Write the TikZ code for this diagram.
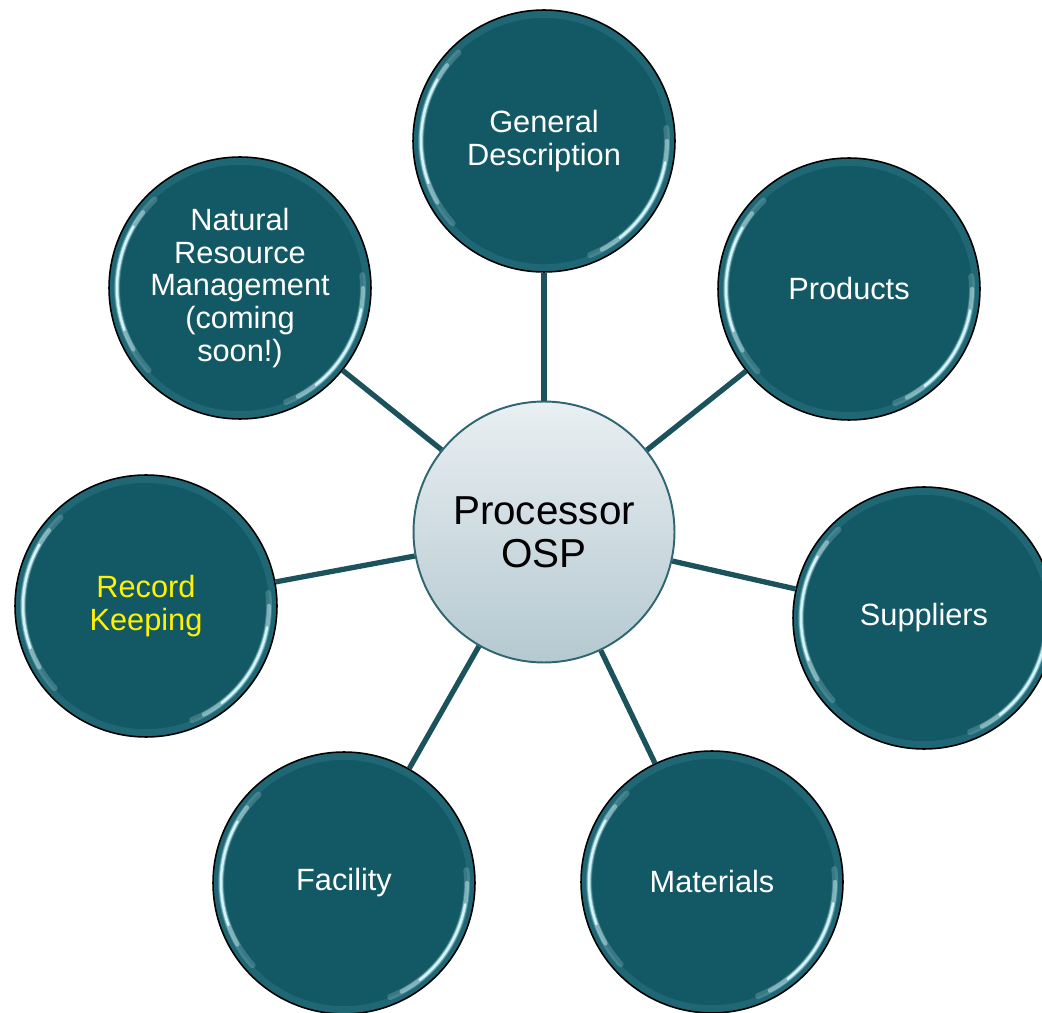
\documentclass[tikz,border=0pt]{standalone}
\usepackage{fontspec}
\setmainfont{Liberation Sans}
\usetikzlibrary{positioning}
\definecolor{tealfill}{HTML}{135865}
\definecolor{tealrim}{HTML}{2C7784}
\definecolor{tealline}{HTML}{1B525C}
\definecolor{hubtop}{HTML}{E9EFF2}
\definecolor{hubbot}{HTML}{B5C9D1}
\definecolor{hubedge}{HTML}{2F6671}
\definecolor{gloss}{HTML}{D6F8FC}
% glossy rim of the topic circles
\newcommand{\glossarcs}{%
  \draw[tealrim, line width=6pt, opacity=0.5] (path picture bounding box.center) circle (2.57cm);
  \foreach \a/\b/\w/\o in {134/222/3.4pt/0.2, 142/210/2.4pt/0.45, 150/200/1.4pt/0.95,
                           -68/6/3.4pt/0.2, -62/0/2.4pt/0.45, -52/-10/1.4pt/0.95}
    \draw[gloss, line width=\w, opacity=\o, line cap=round] ([shift={(\a:2.46cm)}]path picture bounding box.center) arc (\a:\b:2.46cm);
}

\begin{document}
\begin{tikzpicture}[x=0.02cm, y=-0.02cm,
  topic/.style={circle, draw=black, line width=0.9pt, fill=tealfill, minimum size=5.24cm, inner sep=0pt,
    align=center, text=white, font=\fontsize{17.5}{18.6}\selectfont, path picture={\glossarcs}},
  hub/.style={circle, draw=hubedge, line width=1.1pt, top color=hubtop, bottom color=hubbot,
    minimum size=5.22cm, inner sep=0pt, align=center, font=\fontsize{23}{24.5}\selectfont},
  spoke/.style={draw=tealline, line width=3pt}]
\useasboundingbox (0,0) rectangle (1042,1013);

\node[hub] (osp) at (544,532) {Processor\\OSP};
\node[topic] (general) at (544,141) {General\\Description};
\node[topic] (products) at (849,289) {Products};
\node[topic] (suppliers) at (924,618) {Suppliers};
\node[topic] (materials) at (712,882) {Materials};
\node[topic] (facility) at (344,883) {Facility};
\node[topic, text=yellow] (records) at (146,606) {Record\\Keeping};
\node[topic] (natural) at (240,288) {Natural\\Resource\\Management\\(coming\\soon!)};

\foreach \t in {general, products, suppliers, materials, facility, records, natural}
  \draw[spoke] (osp) -- (\t);
\end{tikzpicture}
\end{document}
